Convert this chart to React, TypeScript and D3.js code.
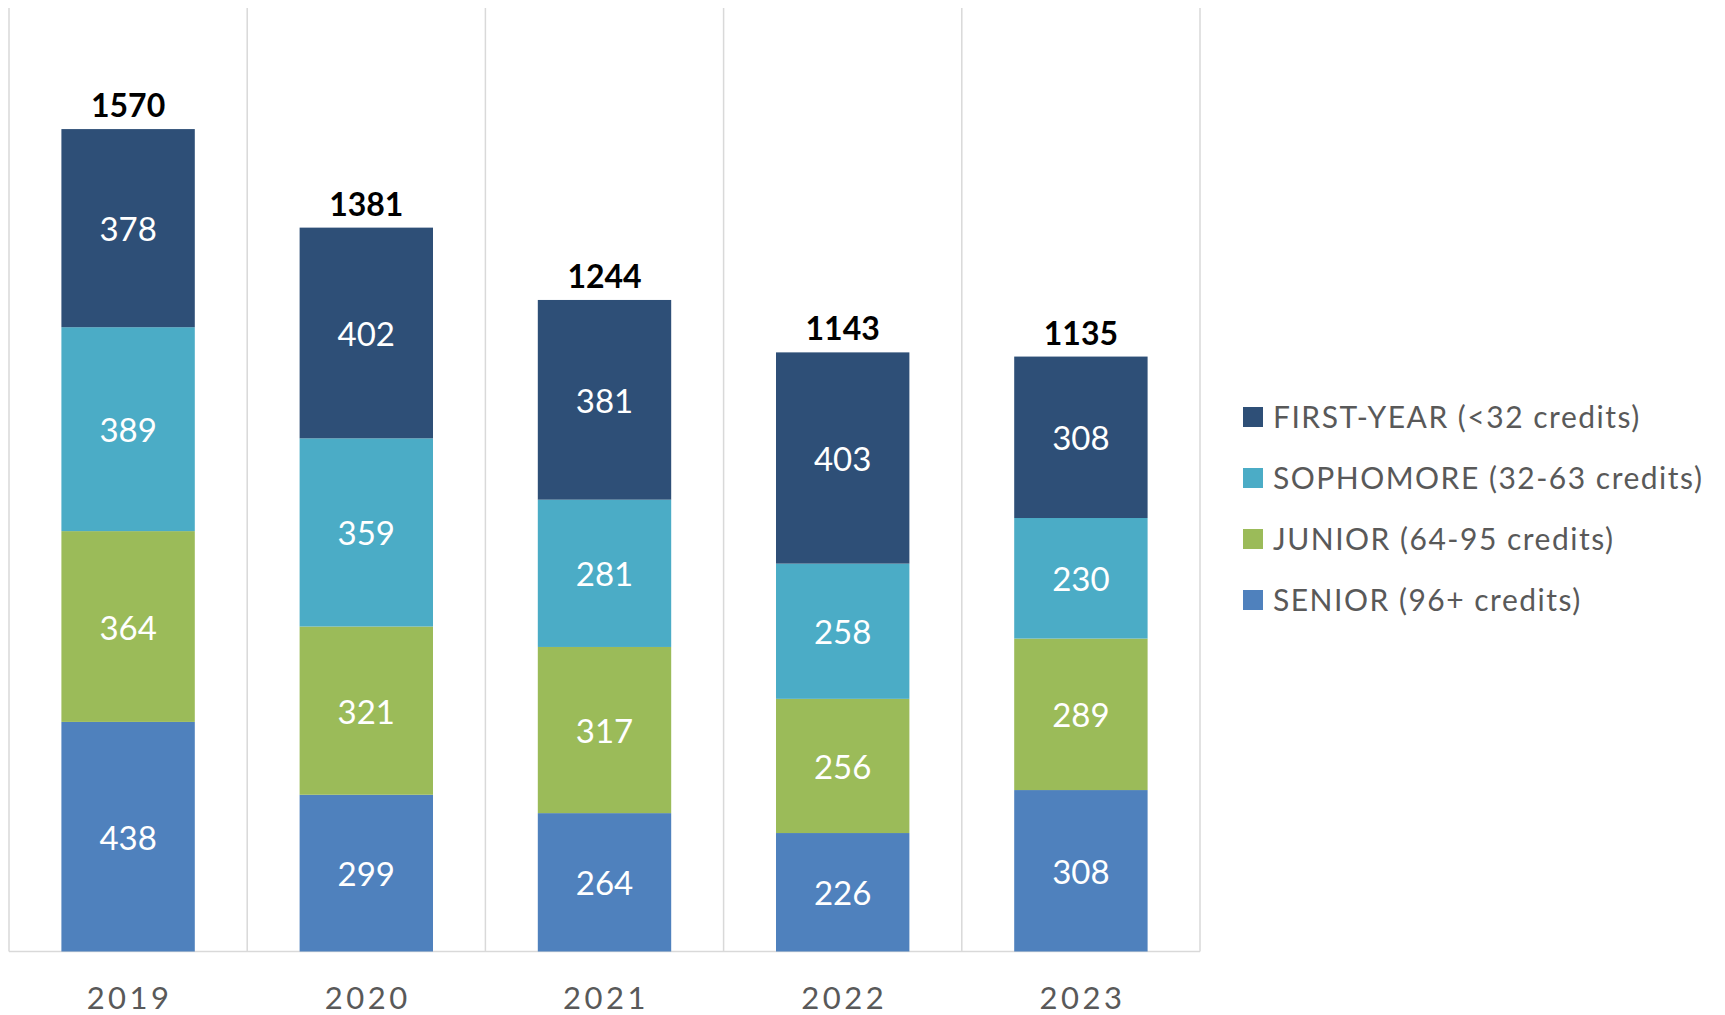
import { scaleBand, scaleLinear, stack } from "d3";

const years = ["2019", "2020", "2021", "2022", "2023"];
const firstYear = [378, 402, 381, 403, 308];
const sophomore = [389, 359, 281, 258, 230];
const junior = [364, 321, 317, 256, 289];
const senior = [438, 299, 264, 226, 308];
const totals = [1570, 1381, 1244, 1143, 1135];

const seriesKeys = ["firstYear", "sophomore", "junior", "senior"];
const seriesNames = [
  "FIRST-YEAR (<32 credits)",
  "SOPHOMORE (32-63 credits)",
  "JUNIOR (64-95 credits)",
  "SENIOR (96+ credits)",
];
const seriesColors = ["#2E4F77", "#4BACC6", "#9BBB59", "#4F81BD"];

const FONT = "Lato, 'Open Sans', sans-serif";

export default function App() {
  const width = 1725;
  const height = 1015;
  const plot = { left: 9, right: 1200, top: 8, bottom: 951.5 };

  const rows = years.map((year, i) => ({
    year,
    firstYear: firstYear[i],
    sophomore: sophomore[i],
    junior: junior[i],
    senior: senior[i],
  }));

  // stack bottom-up: senior, junior, sophomore, first-year
  const stacked = stack<any>().keys([...seriesKeys].reverse())(rows);

  const bandX = scaleBand().domain(years).range([plot.left, plot.right]).padding(0);
  const barX = scaleBand()
    .domain(years)
    .range([plot.left, plot.right])
    .paddingInner(0.44)
    .paddingOuter(0.22);
  const y = scaleLinear().domain([0, 1800]).range([plot.bottom, plot.top]);

  const colorOf = (key: string) => seriesColors[seriesKeys.indexOf(key)];

  const gridXs = [...years.map((yr) => bandX(yr) as number), plot.right];

  return (
    <svg
      width={width}
      height={height}
      style={{ position: "absolute", left: 0, top: 0, background: "#fff" }}
    >
      {gridXs.map((gx, i) => (
        <line
          key={i}
          x1={gx}
          x2={gx}
          y1={plot.top}
          y2={plot.bottom}
          stroke="#d9d9d9"
          strokeWidth={1.5}
        />
      ))}
      <line
        x1={plot.left}
        x2={plot.right}
        y1={plot.bottom}
        y2={plot.bottom}
        stroke="#d9d9d9"
        strokeWidth={1.5}
      />

      {stacked.map((layer) => (
        <g key={layer.key} fill={colorOf(layer.key)}>
          {layer.map((d, i) => (
            <rect
              key={i}
              x={barX(years[i])}
              y={y(d[1])}
              width={barX.bandwidth()}
              height={y(d[0]) - y(d[1])}
            />
          ))}
        </g>
      ))}

      {stacked.map((layer) => (
        <g key={layer.key + "-lbl"}>
          {layer.map((d, i) => (
            <text
              key={i}
              x={(barX(years[i]) as number) + barX.bandwidth() / 2}
              y={(y(d[0]) + y(d[1])) / 2 + 13}
              textAnchor="middle"
              fill="#fff"
              fontFamily={FONT}
              fontSize={33}
            >
              {d.data[layer.key]}
            </text>
          ))}
        </g>
      ))}

      {totals.map((t, i) => (
        <text
          key={i}
          x={(barX(years[i]) as number) + barX.bandwidth() / 2}
          y={y(stacked[stacked.length - 1][i][1]) - 12}
          textAnchor="middle"
          fill="#000"
          fontFamily={FONT}
          fontWeight="bold"
          fontSize={32}
        >
          {t}
        </text>
      ))}

      {years.map((yr) => (
        <text
          key={yr}
          x={(bandX(yr) as number) + bandX.bandwidth() / 2 + 1.5}
          y={1009}
          textAnchor="middle"
          fill="#595959"
          fontFamily={FONT}
          fontSize={31}
          letterSpacing={3.5}
        >
          {yr}
        </text>
      ))}

      {seriesNames.map((name, i) => (
        <g key={name} transform={`translate(1243, ${417 + i * 61})`}>
          <rect x={0} y={-10} width={20} height={20} fill={seriesColors[i]} />
          <text
            x={30}
            y={11}
            fill="#595959"
            fontFamily={FONT}
            fontSize={30}
            letterSpacing={1.5}
          >
            {name}
          </text>
        </g>
      ))}
    </svg>
  );
}
